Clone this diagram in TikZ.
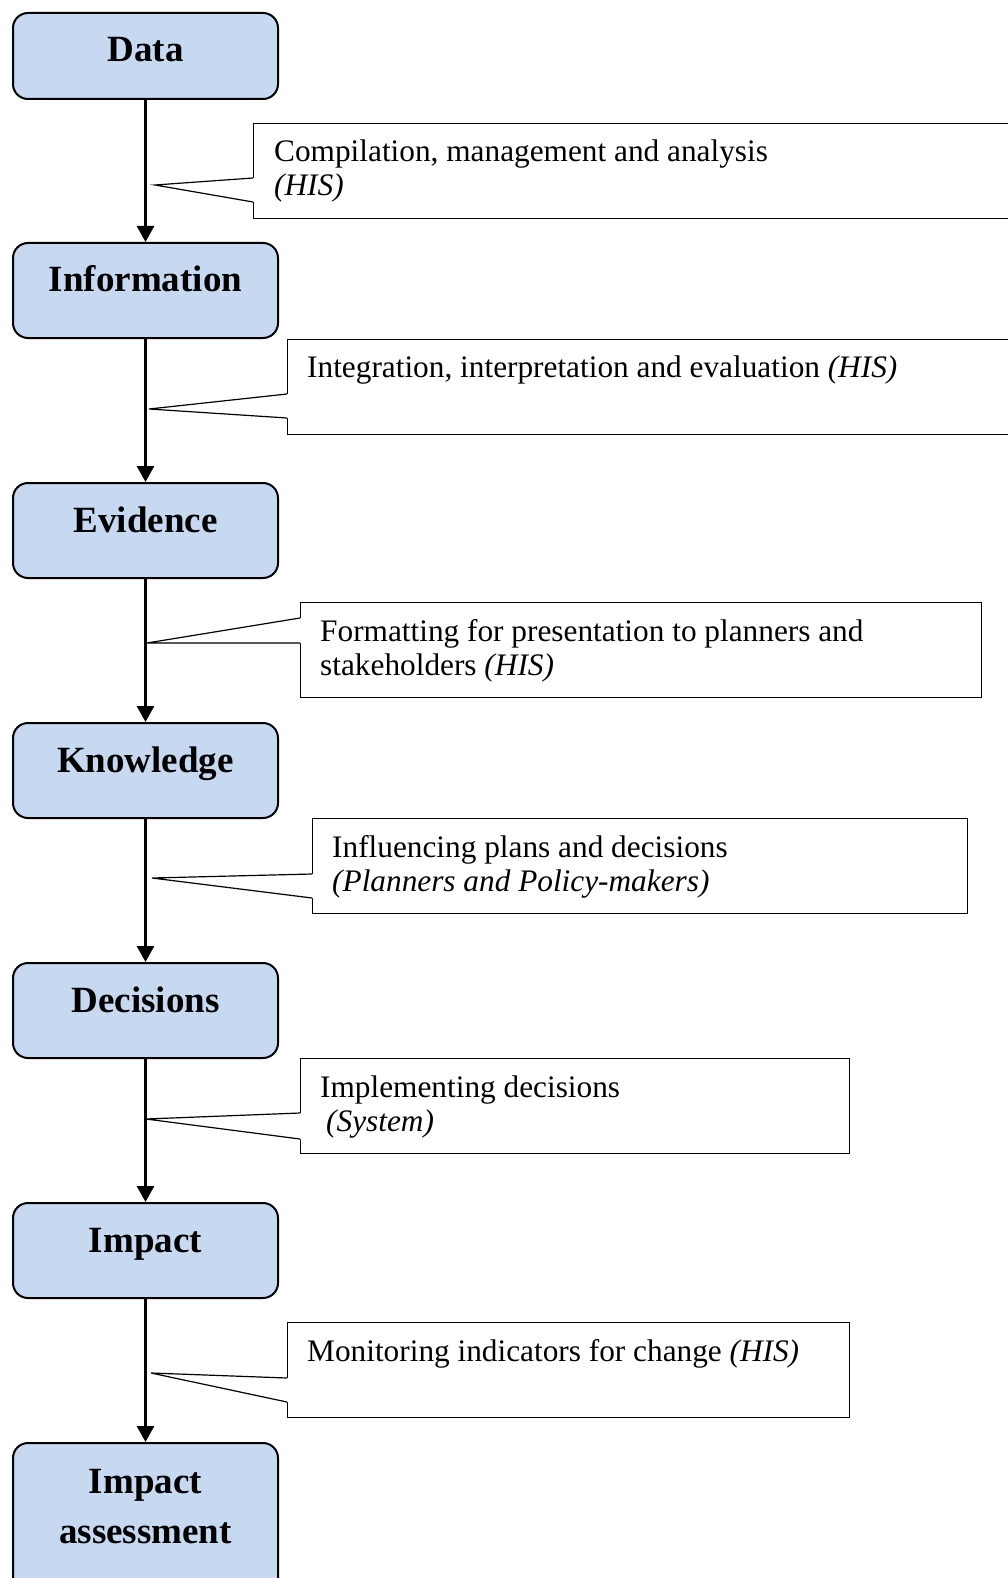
\documentclass[tikz,border=0pt]{standalone}
\usepackage{fontspec}
\setmainfont{Liberation Serif}
\usetikzlibrary{arrows.meta,calc}
\definecolor{boxblue}{HTML}{C6D9F1}

% pointer of a callout: #1 = callout node (its tip is the coordinate #1tip),
% #2/#3 = offsets of the pointer base below the callout's top edge
\newcommand{\calloutptr}[3]{%
  \fill[white] ($(#1.north west)+(0,#2)$) -- (#1tip) -- ($(#1.north west)+(0,#3)$)
     -- ($(#1.north west)+(1.5,#3)$) -- ($(#1.north west)+(1.5,#2)$) -- cycle;
  \draw[ptr] ($(#1.north west)+(0,#2)$) -- (#1tip) -- ($(#1.north west)+(0,#3)$);}

\begin{document}
\begin{tikzpicture}[x=1pt,y=-1pt,
  stage/.style={draw=black, line width=2pt, fill=boxblue, rounded corners=15pt,
    minimum width=265pt, minimum height=95pt, inner sep=0pt, anchor=north west},
  stagetext/.style={font=\fontsize{37}{50}\selectfont\bfseries, align=center,
    inner sep=0pt, anchor=base},
  flow/.style={line width=2.6pt, -{Triangle[length=16pt,width=17pt]}},
  note/.style={draw=black, line width=1.2pt, fill=white, inner sep=0pt,
    minimum height=95pt, anchor=north west},
  notetext/.style={font=\fontsize{31.3}{34}\selectfont, align=left, inner sep=0pt,
    anchor=base west},
  ptr/.style={line width=1.2pt}
]
\useasboundingbox (0,0) rectangle (1008,1578);
\clip (0,0) rectangle (1008,1578);

% stages
\node[stage, minimum height=86pt] (data) at (12,12) {};
\node[stage] (info) at (12,242) {};
\node[stage] (evid) at (12,482) {};
\node[stage] (know) at (12,722) {};
\node[stage] (deci) at (12,962) {};
\node[stage] (impc) at (12,1202) {};
\node[stage, minimum height=150pt] (impa) at (12,1442) {};

% labels sit on their last baseline
\node[stagetext] (dataT) at ($(data.north)+(0,50)$) {Data};
\node[stagetext] (infoT) at ($(info.north)+(0,50)$) {Information};
\node[stagetext] (evidT) at ($(evid.north)+(0,50)$) {Evidence};
\node[stagetext] (knowT) at ($(know.north)+(0,50)$) {Knowledge};
\node[stagetext] (deciT) at ($(deci.north)+(0,50)$) {Decisions};
\node[stagetext] (impcT) at ($(impc.north)+(0,50)$) {Impact};
\node[stagetext] (impaT) at ($(impa.north)+(0,101)$) {Impact\\assessment};

% flow arrows
\draw[flow] (data) -- (info);
\draw[flow] (info) -- (evid);
\draw[flow] (evid) -- (know);
\draw[flow] (know) -- (deci);
\draw[flow] (deci) -- (impc);
\draw[flow] (impc) -- (impa);

% callouts
\node[note, minimum width=800pt] (n1) at (253,123) {};
\coordinate (n1tip) at (155,185);
\calloutptr{n1}{55}{79}
\node[notetext] (n1T) at ($(n1.north west)+(21,73)$)
  {Compilation, management and analysis\\\textit{(HIS)}};

\node[note, minimum width=800pt] (n2) at (287,339) {};
\coordinate (n2tip) at (149,409);
\calloutptr{n2}{55}{79}
\node[notetext] (n2T) at ($(n2.north west)+(20,38)$)
  {Integration, interpretation and evaluation \textit{(HIS)}};

\node[note, minimum width=681pt] (n3) at (300,602) {};
\coordinate (n3tip) at (147,643);
\calloutptr{n3}{16}{41}
\node[notetext] (n3T) at ($(n3.north west)+(20,73)$)
  {Formatting for presentation to planners and\\stakeholders \textit{(HIS)}};

\node[note, minimum width=655pt] (n4) at (312,818) {};
\coordinate (n4tip) at (152,878);
\calloutptr{n4}{56}{80}
\node[notetext] (n4T) at ($(n4.north west)+(20,73)$)
  {Influencing plans and decisions\\\textit{(Planners and Policy-makers)}};

\node[note, minimum width=549pt] (n5) at (300,1058) {};
\coordinate (n5tip) at (146,1119);
\calloutptr{n5}{55}{81}
\node[notetext] (n5T) at ($(n5.north west)+(20,73)$)
  {Implementing decisions\\\hspace*{6pt}\textit{(System)}};

\node[note, minimum width=562pt] (n6) at (287,1322) {};
\coordinate (n6tip) at (151,1373);
\calloutptr{n6}{56}{80}
\node[notetext] (n6T) at ($(n6.north west)+(20,39)$)
  {Monitoring indicators for change \textit{(HIS)}};
\end{tikzpicture}
\end{document}
